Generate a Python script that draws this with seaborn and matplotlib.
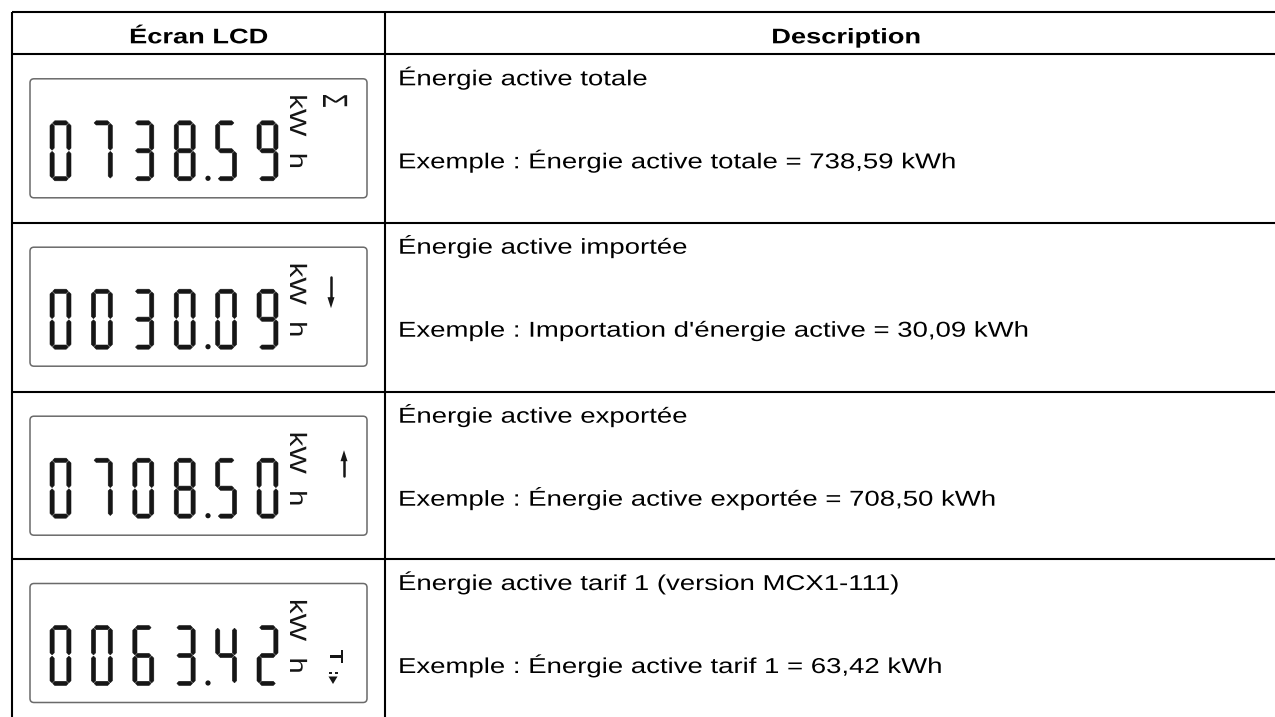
import numpy as np
import matplotlib
matplotlib.use("Agg")
import matplotlib.pyplot as plt
import matplotlib.patheffects as pe
import seaborn as sns
from matplotlib.patches import FancyBboxPatch, Polygon, Circle
from matplotlib.transforms import Affine2D

# ---------------- data ----------------
headers = ["Écran LCD", "Description"]
lcd_values = ["0738.59", "0030.09", "0708.50", "0063.42"]
lcd_symbols = ["sigma", "down", "up", "tariff"]
desc_titles = [
    "Énergie active totale",
    "Énergie active importée",
    "Énergie active exportée",
    "Énergie active tarif 1 (version MCX1-111)",
]
desc_examples = [
    "Exemple : Énergie active totale = 738,59 kWh",
    "Exemple : Importation d'énergie active = 30,09 kWh",
    "Exemple : Énergie active exportée = 708,50 kWh",
    "Exemple : Énergie active tarif 1 = 63,42 kWh",
]
unit_text = ["kW", "h"]

# seven segment map
SEG = {
    "0": "abcdef", "1": "bc", "2": "abged", "3": "abgcd", "4": "fgbc",
    "5": "afgcd", "6": "afgedc", "7": "abc", "8": "abcdefg", "9": "abcdfg",
}

sns.set_theme(style="white")
plt.rcParams["font.family"] = ["Liberation Sans", "DejaVu Sans"]

W, H = 1275, 717
fig = plt.figure(figsize=(W / 100, H / 100), dpi=100)
ax = fig.add_axes([0, 0, 1, 1])
ax.set_xlim(0, W)
ax.set_ylim(H, 0)
ax.axis("off")

INK = "#161616"
LW = 1.5


class Stretch(pe.AbstractPathEffect):
    """Scale the rendered text around an anchor point (display coords)."""

    def __init__(self, sx, sy, cx, cy):
        super().__init__()
        self._t = Affine2D().translate(-cx, -cy).scale(sx, sy).translate(cx, cy)

    def draw_path(self, renderer, gc, tpath, affine, rgbFace=None):
        renderer.draw_path(gc, tpath, affine + self._t, rgbFace)


def stext(x, y, s, size, sx=1.0, sy=1.0, **kw):
    t = ax.text(x, y, s, fontsize=size, **kw)
    cx, cy = ax.transData.transform((x, y))
    t.set_path_effects([Stretch(sx, sy, cx, cy)])
    return t


# table layout
x_left, x_div = 12, 385
y_top, y_head = 11.7, 54.3
row_tops = [54.3, 222.7, 391.7, 559.0]

for y in [y_top, y_head] + row_tops[1:]:
    ax.plot([x_left, W + 5], [y, y], color="black", lw=LW, solid_capstyle="butt")
for x in [x_left, x_div]:
    ax.plot([x, x], [y_top, H + 5], color="black", lw=LW, solid_capstyle="butt")

stext((x_left + x_div) / 2, 43.3, headers[0], 15.2, sx=1.29,
      ha="center", va="baseline", fontweight="bold", color="black")
stext(846, 43.3, headers[1], 15.2, sx=1.29,
      ha="center", va="baseline", fontweight="bold", color="black")


def hseg(xa, xb, y, t):
    return [(xa, y), (xa + t / 2, y - t / 2), (xb - t / 2, y - t / 2),
            (xb, y), (xb - t / 2, y + t / 2), (xa + t / 2, y + t / 2)]


def vseg(ya, yb, x, t):
    return [(x, ya), (x + t / 2, ya + t / 2), (x + t / 2, yb - t / 2),
            (x, yb), (x - t / 2, yb - t / 2), (x - t / 2, ya + t / 2)]


def draw_digit(ch, x0, y0, w=21, h=60, t=4.2, g=0.6):
    xl, xr = x0 + t / 2, x0 + w - t / 2
    yt, ym, yb = y0 + t / 2, y0 + h / 2, y0 + h - t / 2
    segs = {
        "a": hseg(xl + g, xr - g, yt, t),
        "g": hseg(xl + g, xr - g, ym, t),
        "d": hseg(xl + g, xr - g, yb, t),
        "f": vseg(yt + g, ym - g, xl, t),
        "b": vseg(yt + g, ym - g, xr, t),
        "e": vseg(ym + g, yb - g, xl, t),
        "c": vseg(ym + g, yb - g, xr, t),
    }
    for s in SEG[ch]:
        ax.add_patch(Polygon(segs[s], closed=True, fc=INK, ec=INK, lw=0.4))


rot_kw = dict(rotation=-90, rotation_mode="anchor", ha="center", va="baseline", color=INK)

for i, (val, sym) in enumerate(zip(lcd_values, lcd_symbols)):
    rt = row_tops[i]
    bt = rt + 24.5  # box top
    box = FancyBboxPatch((30, bt), 337, 119, boxstyle="round,pad=0,rounding_size=4",
                         fc="white", ec="#6a6a6a", lw=1.1)
    ax.add_patch(box)
    digits = val.replace(".", "")
    pitch = 41.4
    for k, ch in enumerate(digits):
        draw_digit(ch, 50 + k * pitch, bt + 42)
    # decimal point after 4th digit
    ax.add_patch(Circle((208, bt + 99.5), 2.6, fc=INK, ec="none"))
    # units (rotated clockwise)
    stext(290, bt + 36.5, unit_text[0], 21, sx=0.81, **rot_kw)
    stext(290, bt + 82, unit_text[1], 21, sx=0.81, **rot_kw)
    if sym == "sigma":
        stext(323, bt + 22, "Σ", 16.3, sx=1.55, **rot_kw)
    elif sym == "down":
        ax.plot([331, 331], [bt + 30, bt + 52], color=INK, lw=1.8)
        ax.add_patch(Polygon([(327.5, bt + 50), (334.5, bt + 50), (331, bt + 61)],
                             fc=INK, ec="none"))
    elif sym == "up":
        ax.plot([344, 344], [bt + 43, bt + 60], color=INK, lw=1.8)
        ax.add_patch(Polygon([(340.5, bt + 45), (347.5, bt + 45), (344, bt + 34)],
                             fc=INK, ec="none"))
    elif sym == "tariff":
        stext(330, bt + 73, "T", 17, sx=0.77, **rot_kw)
        ax.plot([328.5, 331.5], [bt + 89, bt + 89], color=INK, lw=1.4, solid_capstyle="butt")
        ax.plot([334.5, 337.5], [bt + 89, bt + 89], color=INK, lw=1.4, solid_capstyle="butt")
        ax.add_patch(Polygon([(328.5, bt + 93), (337.5, bt + 93), (333, bt + 100.5)],
                             fc=INK, ec="none"))

    # description
    stext(398, rt + 31, desc_titles[i], 15.5, sx=1.28,
          ha="left", va="baseline", color="black")
    stext(398, rt + 114, desc_examples[i], 15.5, sx=1.28,
          ha="left", va="baseline", color="black")

fig.savefig("out.png", dpi=100, facecolor="white")
